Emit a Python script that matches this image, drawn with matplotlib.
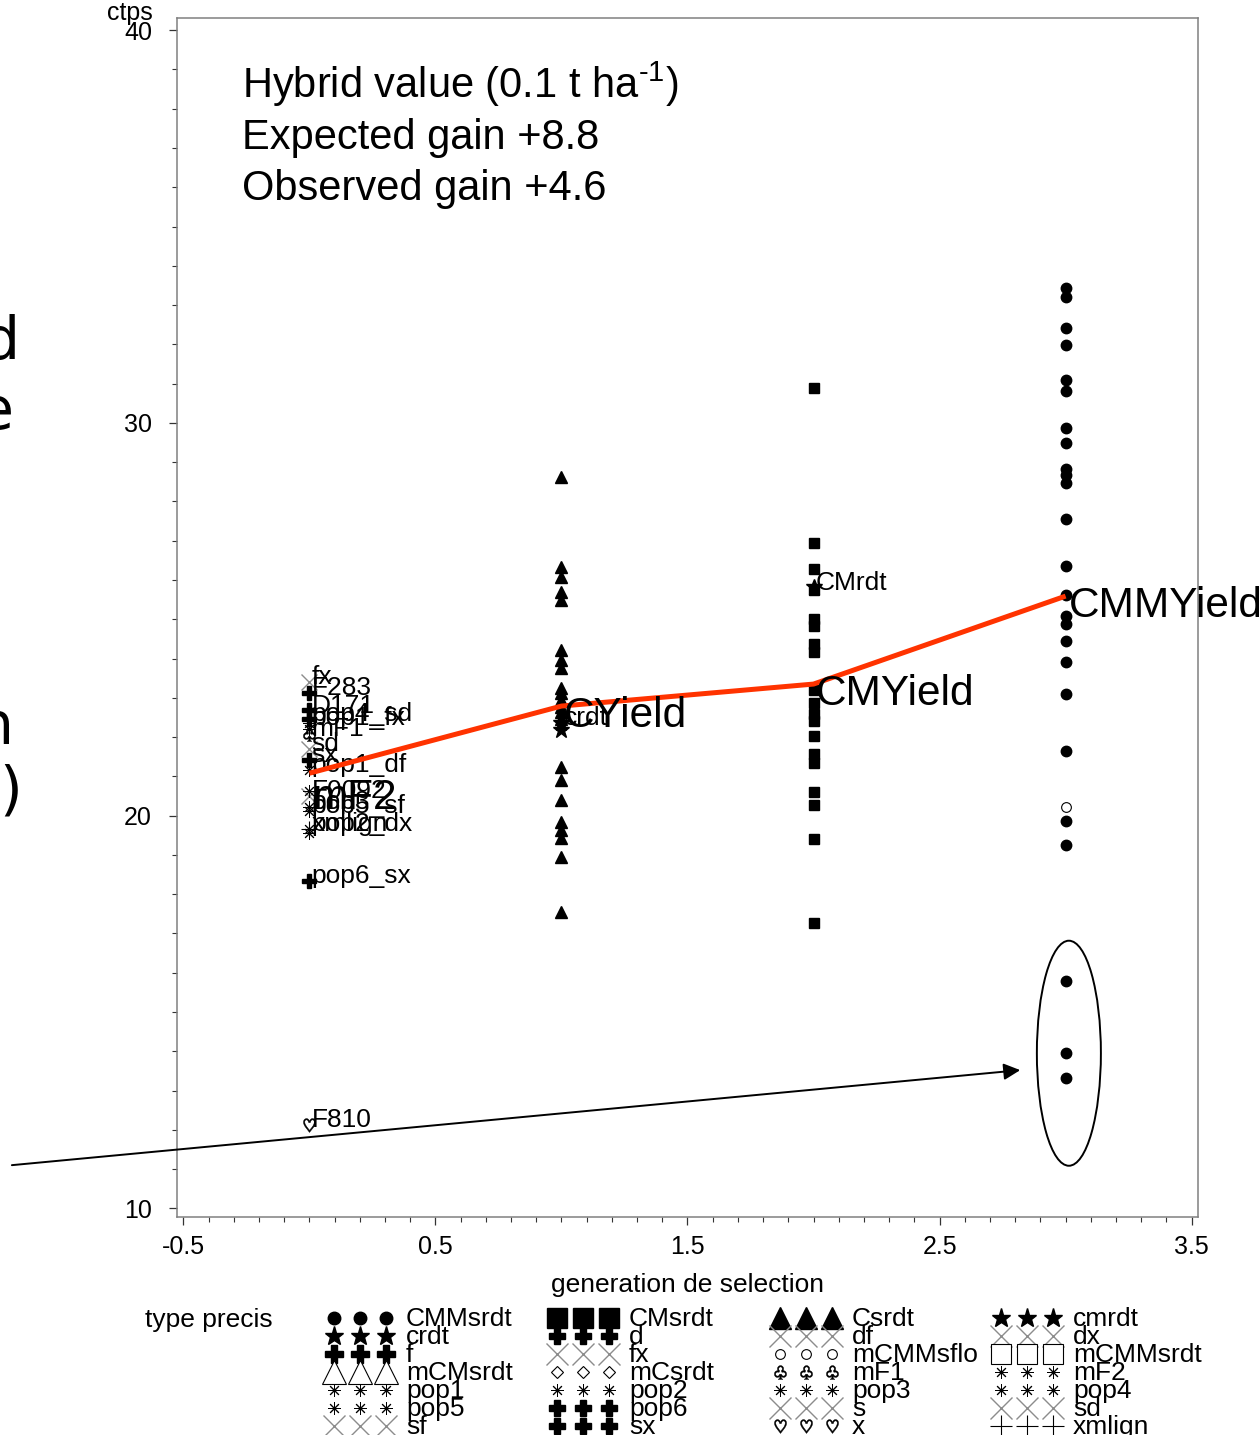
import matplotlib
matplotlib.use("Agg")
import matplotlib.pyplot as plt
from matplotlib.patches import Ellipse
from matplotlib.ticker import MultipleLocator

plt.rcParams['font.family'] = ['Liberation Sans', 'DejaVu Sans']
plt.rcParams['mathtext.fontset'] = 'custom'
plt.rcParams['mathtext.rm'] = 'Liberation Sans'
plt.rcParams['axes.unicode_minus'] = False

W, H = 1259, 1435

# ---- data (ctps per generation) ----
gen3_cmmsrdt = [33.43, 33.20, 32.41, 31.98, 31.09, 30.80, 29.86, 29.50, 28.82, 28.67,
                28.46, 27.55, 26.35, 25.61, 25.08, 24.88, 24.44, 23.91, 23.10, 21.64,
                19.86, 19.25, 15.79, 13.96, 13.32]
gen3_mcmmsflo = [20.22]
gen2_cmsrdt = [30.88, 26.94, 26.27, 25.74, 25.00, 24.82, 24.36, 24.17, 23.20, 22.87,
               22.60, 22.41, 22.04, 21.58, 21.35, 20.61, 20.28, 19.40, 17.26]
gen1_csrdt = [28.63, 26.33, 26.08, 25.70, 25.49, 24.22, 23.96, 23.75, 23.24, 23.11,
              22.94, 22.77, 22.64, 22.47, 21.24, 20.90, 20.41, 19.84, 19.63, 19.42,
              18.95, 17.55]
gen1_crdt = [22.36, 22.18]
gen1_crdt_labels = ["crdt", ""]
gen2_cmrdt = [25.81]
gen2_cmrdt_labels = ["CMrdt"]

# generation 0: individual lines, their type and label
gen0_values = [23.40, 23.12, 22.68, 22.46, 22.36, 22.07, 22.20, 21.70, 21.42, 21.16,
               20.50, 20.62, 20.22, 20.12, 19.66, 19.66, 19.55, 18.33, 12.12]
gen0_types = ["fx", "f", "d", "sx", "pop1", "mF1", "pop4", "sd", "sx", "pop1",
              "df", "pop2", "pop3", "pop5", "pop2", "xmlign", "pop5", "sx", "x"]
gen0_labels = ["fx", "F283", "D171", "pop4_sd", "pop1_fx", "mF1", "", "sd", "sx", "pop1_df",
               "F0092", "", "pop3", "pop5_sf", "pop2_dx", "xmlign", "", "pop6_sx", "F810"]

generations = [0, 1, 2, 3]
gen_means = [21.08, 22.79, 23.35, 25.59]
gen_mean_labels = ["mF2", "CYield", "CMYield", "CMMYield"]

info_lines = [r"Hybrid value (0.1 t ha$^{\text{-1}}$)",
              "Expected gain +8.8",
              "Observed gain +4.6"]

legend_types = ["CMMsrdt", "CMsrdt", "Csrdt", "cmrdt", "crdt", "d", "df", "dx",
                "f", "fx", "mCMMsflo", "mCMMsrdt", "mCMsrdt", "mCsrdt", "mF1", "mF2",
                "pop1", "pop2", "pop3", "pop4", "pop5", "pop6", "s", "sd",
                "sf", "sx", "x", "xmlign"]

arrow_from = (-1.18, 11.10)
arrow_to = (2.82, 13.52)
circled_center = (3.013, 13.95)

# ---- marker styles: (marker, plot size, legend size, face, edge, lw) ----
AST = (8, 2, 0)
GR = '#8c8c8c'
STYLE = {
    'CMMsrdt': ('o', 7.5, 9, 'black', 'black', 1),
    'CMsrdt': ('s', 7.5, 15, 'black', 'black', 1),
    'Csrdt': ('^', 8, 16, 'black', 'black', 1),
    'cmrdt': ('*', 12, 14, 'black', 'black', 1),
    'crdt': ('*', 12, 14, 'black', 'black', 1),
    'd': ('P', 10, 12, 'black', 'black', 1),
    'df': ('x', 12, 16, GR, GR, 1),
    'dx': ('x', 12, 16, GR, GR, 1),
    'f': ('P', 10, 13, 'black', 'black', 1),
    'fx': ('x', 12, 16, GR, GR, 1),
    'mCMMsflo': ('o', 7, 7, 'white', 'black', 0.8),
    'mCMMsrdt': ('s', 8, 15, 'white', 'black', 0.8),
    'mCMsrdt': ('^', 9, 17, 'white', 'black', 0.8),
    'mCsrdt': ('D', 5, 6, 'white', 'black', 0.8),
    'mF1': ('$\u2667$', 10, 10, 'black', 'black', 0.3),
    'mF2': (AST, 9, 9, 'black', 'black', 0.7),
    'pop1': (AST, 9, 9, 'black', 'black', 0.7),
    'pop2': (AST, 9, 9, 'black', 'black', 0.7),
    'pop3': (AST, 9, 9, 'black', 'black', 0.7),
    'pop4': (AST, 9, 9, 'black', 'black', 0.7),
    'pop5': (AST, 9, 9, 'black', 'black', 0.7),
    'pop6': ('P', 10, 12, 'black', 'black', 1),
    's': ('x', 12, 16, GR, GR, 1),
    'sd': ('x', 12, 16, GR, GR, 1),
    'sf': ('x', 12, 16, GR, GR, 1),
    'sx': ('P', 10, 12, 'black', 'black', 1),
    'x': ('$\u2661$', 10, 10, 'black', 'black', 0.3),
    'xmlign': ('+', 12, 16, 'black', 'black', 0.8),
}


def draw_points(ax, xs, ys, t, legend=False):
    m, ps, ls, fc, ec, lw = STYLE[t]
    ax.plot(xs, ys, linestyle='none', marker=m, ms=ls if legend else ps,
            mfc=fc, mec=ec, mew=lw, zorder=3)


fig = plt.figure(figsize=(W / 100, H / 100), dpi=100)
ax = fig.add_axes([177 / W, 1 - 1217 / H, (1197.7 - 177) / W, (1217 - 18) / H])
ax.set_xlim(-0.525, 3.524)
ax.set_ylim(9.78, 40.31)

for s in ax.spines.values():
    s.set_color('#808080')
    s.set_linewidth(1.1)
ax.set_xticks([-0.5, 0.5, 1.5, 2.5, 3.5])
ax.xaxis.set_minor_locator(MultipleLocator(0.1))
ax.set_yticks([10, 20, 30, 40])
ax.yaxis.set_minor_locator(MultipleLocator(1))
ax.tick_params(which='major', direction='out', length=6, width=0.9, color='#333333',
               labelsize=18)
ax.tick_params(which='minor', direction='out', length=3.5, width=0.8, color='#333333')
ax.tick_params(axis='y', which='major', pad=12)
ax.tick_params(axis='x', which='major', pad=7)
ax.set_xlabel('generation de selection', fontsize=19)
ax.xaxis.set_label_coords(0.5, -(1273 - 1217) / (1217 - 18))
ax.xaxis.label.set_va('top')

# points
draw_points(ax, [3] * len(gen3_cmmsrdt), gen3_cmmsrdt, 'CMMsrdt')
draw_points(ax, [3] * len(gen3_mcmmsflo), gen3_mcmmsflo, 'mCMMsflo')
draw_points(ax, [2] * len(gen2_cmsrdt), gen2_cmsrdt, 'CMsrdt')
draw_points(ax, [1] * len(gen1_csrdt), gen1_csrdt, 'Csrdt')
draw_points(ax, [1] * len(gen1_crdt), gen1_crdt, 'crdt')
draw_points(ax, [2] * len(gen2_cmrdt), gen2_cmrdt, 'cmrdt')
for v, t in zip(gen0_values, gen0_types):
    draw_points(ax, [0], [v], t)

# point labels
lab_kw = dict(textcoords='offset points', xytext=(1.5, 3.5), fontsize=19,
              ha='left', va='center', zorder=4)
for v, lab in zip(gen0_values, gen0_labels):
    if lab:
        ax.annotate(lab, (0, v), **lab_kw)
for v, lab in zip(gen1_crdt, gen1_crdt_labels):
    if lab:
        ax.annotate(lab, (1, v), **lab_kw)
for v, lab in zip(gen2_cmrdt, gen2_cmrdt_labels):
    ax.annotate(lab, (2, v), **lab_kw)

# mean line
ax.plot(generations, gen_means, color='#ff3300', lw=3.6, zorder=5, solid_capstyle='butt')
for g, v, lab in zip(generations, gen_means, gen_mean_labels):
    dy = -18 if g == 0 else -7
    ax.annotate(lab, (g, v), textcoords='offset points', xytext=(2, dy), fontsize=30.5,
                ha='left', va='center', zorder=6)

# circled points and arrow
ax.add_patch(Ellipse(circled_center, 0.254, 5.73, fill=False, ec='black', lw=1.4,
                     zorder=4))
ax.annotate('', xy=arrow_to, xytext=arrow_from, annotation_clip=False,
            arrowprops=dict(arrowstyle='-|>', color='black', lw=1.4, mutation_scale=25,
                            shrinkA=0, shrinkB=0))

# header text
for i, line in enumerate(info_lines):
    fig.text(242 / W, 1 - (98 + 51 * i) / H, line, fontsize=30, va='baseline', ha='left')
fig.text(153 / W, 1 - 13 / H, 'ctps', fontsize=18, ha='right', va='center')

# handwritten slide text cut off at the left edge
for ch, xr, yc in [('d', 20, 342), ('e', 14, 412), ('n', 14, 728), (')', 22, 792)]:
    fig.text(xr / W, 1 - yc / H, ch, fontsize=42, ha='right', va='center',
             family='DejaVu Sans')

# legend
lax = fig.add_axes([0, 0, 1, 1], zorder=-1)
lax.set_xlim(0, W)
lax.set_ylim(H, 0)
lax.axis('off')
lax.text(145, 1320, 'type precis', fontsize=19, ha='left', va='center')
col_x = [334, 557, 780, 1001]
for i, t in enumerate(legend_types):
    r, c = divmod(i, 4)
    y = 1319 + 18 * r
    x0 = col_x[c]
    draw_points(lax, [x0, x0 + 26, x0 + 52], [y - 1] * 3, t, legend=True)
    lax.text(x0 + 72, y, t, fontsize=19, ha='left', va='center')

fig.savefig('out.png', dpi=100)
